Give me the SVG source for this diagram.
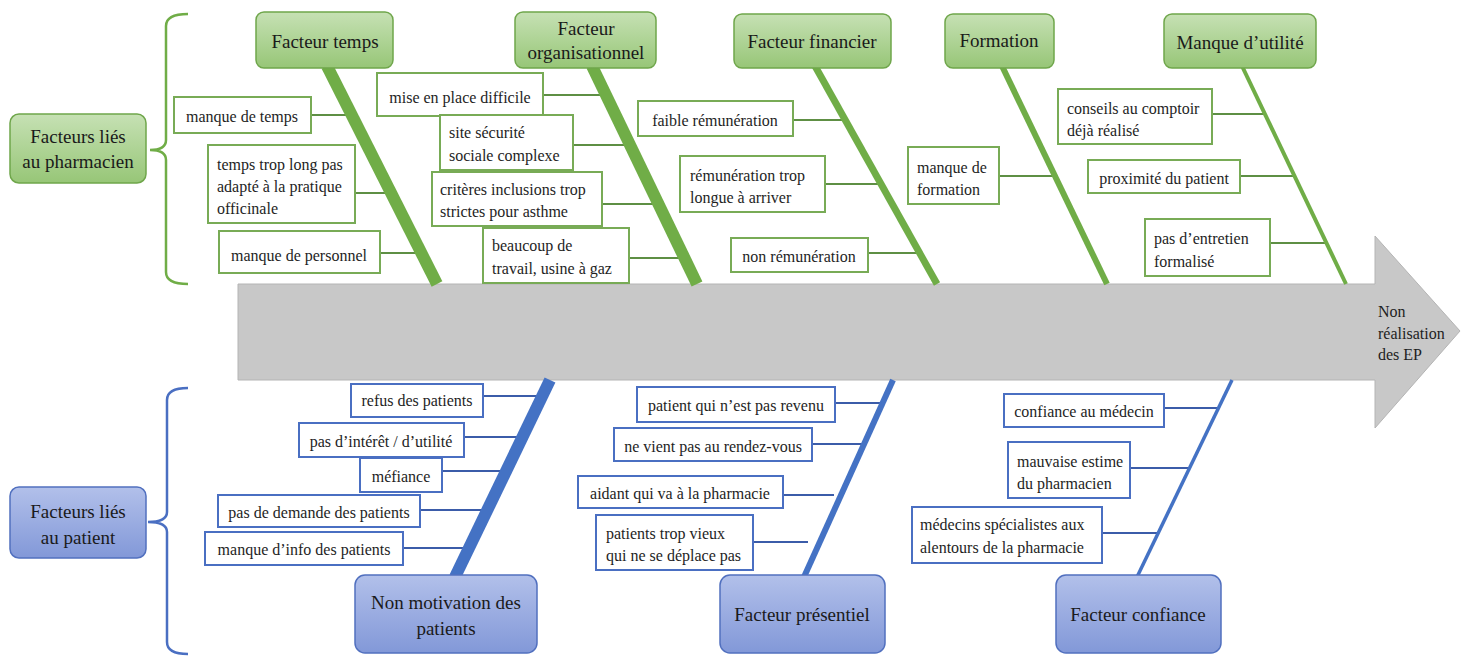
<svg xmlns="http://www.w3.org/2000/svg" width="1465" height="656" viewBox="0 0 1465 656">
<defs>
<linearGradient id="gG" x1="0" y1="0" x2="0" y2="1"><stop offset="0" stop-color="#c6e1b4"/><stop offset="1" stop-color="#97c677"/></linearGradient>
<linearGradient id="gB" x1="0" y1="0" x2="0" y2="1"><stop offset="0" stop-color="#b2c0ea"/><stop offset="1" stop-color="#8298d8"/></linearGradient>
<style>
text{font-family:"Liberation Serif","Times New Roman",serif;fill:#1e1e1e;dominant-baseline:central}
.h{font-size:19px;text-anchor:middle;fill:#1a1a1a}
.s{font-size:16px}
.c{text-anchor:middle}
.gn rect{fill:url(#gG);stroke:#6fa64b;stroke-width:1.5}
.bn rect{fill:url(#gB);stroke:#5170bf;stroke-width:1.5}
.gs rect{fill:#fff;stroke:#78ab56;stroke-width:2}
.bs rect{fill:#fff;stroke:#4a6fc2;stroke-width:2}
.gc{stroke:#5e8f44;stroke-width:2;fill:none}
.bc{stroke:#3b5ca9;stroke-width:2;fill:none}
.gsp{stroke:#70ad47;fill:none}
.bsp{stroke:#4472c4;fill:none}
</style>
</defs>
<rect width="1465" height="656" fill="#fff"/>

<g id="main-arrow">
<polygon points="238,284 1375,284 1375,236 1460,331 1375,428 1375,380 238,380" fill="#c8c8c8" stroke="#b4b4b4" stroke-width="1"/>
<text class="s" x="1378" y="311">Non</text>
<text class="s" x="1378" y="333">réalisation</text>
<text class="s" x="1378" y="354">des EP</text>
</g>

<g id="brackets">
<path d="M188,14 Q166,14 166,26 L166,140 Q166,150 150,150 Q166,150 166,160 L166,272 Q166,284 188,284" fill="none" stroke="#70ad47" stroke-width="2.5"/>
<path d="M188,388 Q167,388 167,400 L167,512 Q167,522 148,522 Q167,522 167,532 L167,642 Q167,654 188,654" fill="none" stroke="#4a6fc2" stroke-width="2.5"/>
</g>

<g id="connectors">
<line class="gc" x1="311" y1="115" x2="351" y2="115"/>
<line class="gc" x1="355" y1="193" x2="391" y2="193"/>
<line class="gc" x1="380" y1="253" x2="421" y2="253"/>
<line class="gc" x1="543" y1="95" x2="605" y2="95"/>
<line class="gc" x1="573" y1="145" x2="629" y2="145"/>
<line class="gc" x1="602" y1="204" x2="657" y2="204"/>
<line class="gc" x1="629" y1="258" x2="684" y2="258"/>
<line class="gc" x1="793" y1="120" x2="845" y2="120"/>
<line class="gc" x1="825" y1="184" x2="880" y2="184"/>
<line class="gc" x1="868" y1="253" x2="920" y2="253"/>
<line class="gc" x1="999" y1="176" x2="1056" y2="176"/>
<line class="gc" x1="1212" y1="114" x2="1264" y2="114"/>
<line class="gc" x1="1240" y1="176" x2="1293" y2="176"/>
<line class="gc" x1="1270" y1="243" x2="1326" y2="243"/>
<line class="bc" x1="483" y1="396" x2="543" y2="396"/>
<line class="bc" x1="464" y1="437" x2="523" y2="437"/>
<line class="bc" x1="442" y1="471" x2="506" y2="471"/>
<line class="bc" x1="420" y1="510" x2="487" y2="510"/>
<line class="bc" x1="403" y1="548" x2="468" y2="548"/>
<line class="bc" x1="835" y1="403" x2="883" y2="403"/>
<line class="bc" x1="812" y1="444" x2="864" y2="444"/>
<line class="bc" x1="783" y1="495" x2="834" y2="495"/>
<line class="bc" x1="753" y1="542" x2="808" y2="542"/>
<line class="bc" x1="1164" y1="408" x2="1219" y2="408"/>
<line class="bc" x1="1130" y1="468" x2="1189" y2="468"/>
<line class="bc" x1="1102" y1="533" x2="1157" y2="533"/>
</g>

<g id="spines">
<line class="gsp" x1="327" y1="66" x2="437" y2="284" stroke-width="12"/>
<line class="gsp" x1="592" y1="66" x2="697" y2="284" stroke-width="12"/>
<line class="gsp" x1="815" y1="66" x2="937" y2="284" stroke-width="7"/>
<line class="gsp" x1="1002" y1="66" x2="1107" y2="284" stroke-width="6"/>
<line class="gsp" x1="1242" y1="66" x2="1346" y2="284" stroke-width="4"/>
<line class="bsp" x1="550" y1="380" x2="455" y2="577" stroke-width="12"/>
<line class="bsp" x1="893" y1="380" x2="804" y2="577" stroke-width="6"/>
<line class="bsp" x1="1232" y1="380" x2="1137" y2="577" stroke-width="3.5"/>
</g>

<g id="n-pharmacien" class="gn"><rect x="10" y="114" width="136" height="69" rx="9"/><text class="h" x="78" y="136">Facteurs liés</text><text class="h" x="78" y="161">au pharmacien</text></g>
<g id="n-temps" class="gn"><rect x="256" y="12" width="137" height="56" rx="8"/><text class="h" x="325" y="41">Facteur temps</text></g>
<g id="n-organisationnel" class="gn"><rect x="515" y="12" width="141" height="56" rx="8"/><text class="h" x="586" y="28">Facteur</text><text class="h" x="586" y="52">organisationnel</text></g>
<g id="n-financier" class="gn"><rect x="734" y="14" width="157" height="54" rx="8"/><text class="h" x="812" y="41">Facteur financier</text></g>
<g id="n-formation" class="gn"><rect x="945" y="14" width="109" height="54" rx="8"/><text class="h" x="999" y="40">Formation</text></g>
<g id="n-utilite" class="gn"><rect x="1164" y="14" width="152" height="54" rx="8"/><text class="h" x="1240" y="42">Manque d’utilité</text></g>

<g id="s-manque-temps" class="gs"><rect x="174" y="97" width="137" height="36"/><text class="s c" x="242" y="116">manque de temps</text></g>
<g id="s-temps-long" class="gs"><rect x="208" y="145" width="147" height="78"/><text class="s" x="217" y="164">temps trop long pas</text><text class="s" x="217" y="186">adapté à la pratique</text><text class="s" x="217" y="208">officinale</text></g>
<g id="s-personnel" class="gs"><rect x="219" y="231" width="161" height="42"/><text class="s c" x="299" y="255">manque de personnel</text></g>
<g id="s-mise-en-place" class="gs"><rect x="377" y="73" width="166" height="43"/><text class="s c" x="460" y="97">mise en place difficile</text></g>
<g id="s-site" class="gs"><rect x="440" y="115" width="133" height="55"/><text class="s" x="449" y="132">site sécurité</text><text class="s" x="449" y="155">sociale complexe</text></g>
<g id="s-criteres" class="gs"><rect x="432" y="172" width="170" height="54"/><text class="s" x="440" y="189">critères inclusions trop</text><text class="s" x="440" y="211">strictes pour asthme</text></g>
<g id="s-beaucoup" class="gs"><rect x="483" y="228" width="146" height="55"/><text class="s" x="492" y="245">beaucoup de</text><text class="s" x="492" y="268">travail, usine à gaz</text></g>
<g id="s-faible" class="gs"><rect x="638" y="101" width="155" height="35"/><text class="s c" x="715" y="120">faible rémunération</text></g>
<g id="s-longue" class="gs"><rect x="680" y="156" width="145" height="56"/><text class="s" x="690" y="175">rémunération trop</text><text class="s" x="690" y="197">longue à arriver</text></g>
<g id="s-non-remu" class="gs"><rect x="731" y="238" width="137" height="34"/><text class="s c" x="799" y="256">non rémunération</text></g>
<g id="s-formation" class="gs"><rect x="908" y="147" width="91" height="57"/><text class="s" x="917" y="167">manque de</text><text class="s" x="917" y="189">formation</text></g>
<g id="s-conseils" class="gs"><rect x="1058" y="89" width="154" height="55"/><text class="s" x="1067" y="108">conseils au comptoir</text><text class="s" x="1067" y="130">déjà réalisé</text></g>
<g id="s-proximite" class="gs"><rect x="1088" y="160" width="152" height="33"/><text class="s c" x="1164" y="178">proximité du patient</text></g>
<g id="s-entretien" class="gs"><rect x="1145" y="219" width="125" height="57"/><text class="s" x="1154" y="238">pas d’entretien</text><text class="s" x="1154" y="261">formalisé</text></g>

<g id="n-patient" class="bn"><rect x="10" y="487" width="136" height="71" rx="9"/><text class="h" x="78" y="511">Facteurs liés</text><text class="h" x="78" y="537">au patient</text></g>
<g id="n-motivation" class="bn"><rect x="355" y="575" width="182" height="78" rx="10"/><text class="h" x="446" y="602">Non motivation des</text><text class="h" x="446" y="628">patients</text></g>
<g id="n-presentiel" class="bn"><rect x="720" y="575" width="165" height="78" rx="10"/><text class="h" x="802" y="614">Facteur présentiel</text></g>
<g id="n-confiance" class="bn"><rect x="1056" y="575" width="165" height="78" rx="10"/><text class="h" x="1138" y="614">Facteur confiance</text></g>

<g id="s-refus" class="bs"><rect x="351" y="384" width="132" height="33"/><text class="s c" x="417" y="400">refus des patients</text></g>
<g id="s-interet" class="bs"><rect x="299" y="423" width="165" height="34"/><text class="s c" x="381" y="441">pas d’intérêt / d’utilité</text></g>
<g id="s-mefiance" class="bs"><rect x="360" y="458" width="82" height="34"/><text class="s c" x="401" y="476">méfiance</text></g>
<g id="s-demande" class="bs"><rect x="218" y="495" width="202" height="32"/><text class="s c" x="319" y="512">pas de demande des patients</text></g>
<g id="s-info" class="bs"><rect x="205" y="532" width="198" height="33"/><text class="s c" x="304" y="549">manque d’info des patients</text></g>
<g id="s-revenu" class="bs"><rect x="637" y="387" width="198" height="35"/><text class="s c" x="736" y="405">patient qui n’est pas revenu</text></g>
<g id="s-rdv" class="bs"><rect x="614" y="428" width="198" height="33"/><text class="s c" x="713" y="446">ne vient pas au rendez-vous</text></g>
<g id="s-aidant" class="bs"><rect x="578" y="476" width="205" height="32"/><text class="s c" x="680" y="493">aidant qui va à la pharmacie</text></g>
<g id="s-vieux" class="bs"><rect x="596" y="515" width="157" height="55"/><text class="s" x="606" y="533">patients trop vieux</text><text class="s" x="606" y="555">qui ne se déplace pas</text></g>
<g id="s-confiance-med" class="bs"><rect x="1004" y="394" width="160" height="33"/><text class="s c" x="1084" y="411">confiance au médecin</text></g>
<g id="s-estime" class="bs"><rect x="1008" y="442" width="122" height="56"/><text class="s" x="1017" y="461">mauvaise estime</text><text class="s" x="1017" y="483">du pharmacien</text></g>
<g id="s-specialistes" class="bs"><rect x="912" y="507" width="190" height="56"/><text class="s" x="920" y="524">médecins spécialistes aux</text><text class="s" x="920" y="547">alentours de la pharmacie</text></g>
</svg>
